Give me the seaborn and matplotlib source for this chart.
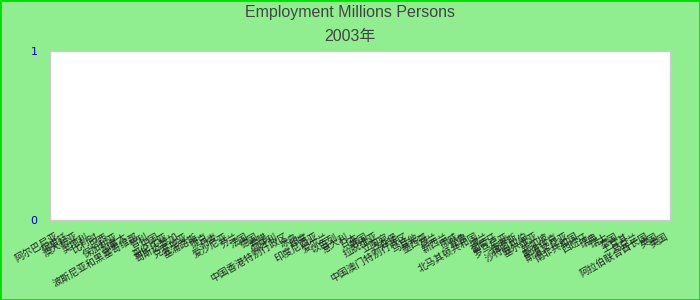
import matplotlib
matplotlib.use("Agg")
import matplotlib.pyplot as plt
import seaborn as sns
import pandas as pd
from matplotlib.patches import Rectangle

title = "Employment Millions Persons"
subtitle = "2003年"

countries = [
    "阿尔巴尼亚", "阿根廷", "澳大利亚", "奥地利", "比利时", "巴西", "保加利亚", "加拿大",
    "波斯尼亚和黑塞哥维那", "智利", "中国", "哥伦比亚", "哥斯达黎加", "克罗地亚", "塞浦路斯",
    "捷克", "丹麦", "爱沙尼亚", "芬兰", "法国", "德国", "希腊", "匈牙利",
    "中国香港特别行政区", "冰岛", "印度", "印度尼西亚", "爱尔兰", "以色列", "意大利", "日本",
    "韩国", "拉脱维亚", "立陶宛", "卢森堡", "中国澳门特别行政区", "马耳他", "墨西哥", "荷兰",
    "新西兰", "挪威", "秘鲁", "北马其顿共和国", "波兰", "葡萄牙", "罗马尼亚", "俄罗斯",
    "沙特阿拉伯", "塞尔维亚", "新加坡", "斯洛伐克", "斯洛文尼亚", "南非共和国", "西班牙",
    "瑞典", "瑞士", "泰国", "土耳其", "乌克兰", "阿拉伯联合酋长国", "英国", "美国",
]
employment = [0.0] * len(countries)
y_ticks = [0, 1]

sns.set_theme(style="white")
plt.rcParams["font.family"] = ["Noto Sans CJK SC", "DejaVu Sans"]

df = pd.DataFrame({"country": countries, "employment": employment})

fig = plt.figure(figsize=(7, 3), dpi=100, facecolor="#90ee90")
ax = fig.add_axes([50 / 700, 1 - 220 / 300, 620 / 700, 169 / 300])
ax.set_facecolor("white")

sns.barplot(data=df, x="country", y="employment", ax=ax, color="#4472c4")

ax.set_ylim(0, 1)
ax.set_yticks(y_ticks)
ax.set_yticklabels([str(v) for v in y_ticks], color="#0000bb", fontsize=8,
                   family=["DejaVu Sans"])
ax.tick_params(axis="y", length=0, pad=9)
ax.tick_params(axis="x", length=0, pad=8)
for lbl in ax.get_xticklabels():
    lbl.set_rotation(30)
    lbl.set_ha("right")
    lbl.set_rotation_mode("anchor")
    lbl.set_fontsize(7)
    lbl.set_color("#222222")
ax.set_xlabel("")
ax.set_ylabel("")
for s in ax.spines.values():
    s.set_color("#cccccc")
    s.set_linewidth(1)

tfam = ["Liberation Sans", "Noto Sans CJK SC"]
fig.text(0.5, 1 - 13 / 300, title, ha="center", va="center", fontsize=11.5,
         color="#444444", family=tfam)
fig.text(0.5, 1 - 37 / 300, subtitle, ha="center", va="center", fontsize=11.5,
         color="#444444", family=tfam)

fig.patches.append(Rectangle((0, 0), 1, 1, transform=fig.transFigure, fill=False,
                             edgecolor="#00e000", linewidth=2, zorder=10))

fig.savefig("out.png", dpi=100, facecolor=fig.get_facecolor())
